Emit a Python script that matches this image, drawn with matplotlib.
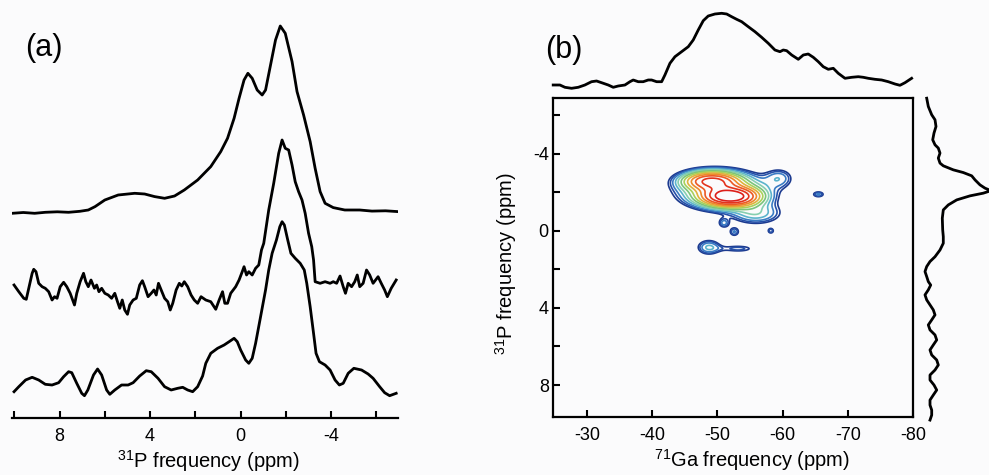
import numpy as np
import matplotlib.pyplot as plt

plt.rcParams['font.family'] = ['Liberation Sans', 'DejaVu Sans']
plt.rcParams['mathtext.default'] = 'regular'
plt.rcParams['axes.unicode_minus'] = False

# (a) three 31P spectra, ppm vs intensity (arbitrary units)
top_ppm = [10.09, 9.6, 9.1, 8.63, 8.1, 7.6, 7.1, 6.73, 6.43, 6.00,
           5.41, 4.68, 4.24, 3.80, 3.36, 2.92, 2.49, 1.90, 1.32, 0.88,
           0.58, 0.29, 0.07, -0.15, -0.32, -0.51, -0.73, -0.95, -1.10, -1.32,
           -1.54, -1.75, -1.97, -2.27, -2.49, -2.78, -3.07, -3.29, -3.51, -3.73,
           -4.09, -4.6, -5.26, -5.8, -6.4, -6.94]
top_int = [0, 0.8, 0, 1, 1.5, 1, 2, 3.3, 6.7, 13.3,
           18.3, 20, 19.3, 16.7, 15, 17.3, 23.3, 33.3, 46.7, 61.7,
           75, 95, 115, 133.3, 140, 135, 123.3, 118.3, 123.3, 148.3,
           173.3, 187.3, 180, 151.7, 121.7, 98.3, 71.7, 45, 21.7, 10,
           5.7, 3.3, 3.3, 2.2, 2.5, 1.7]

mid_ppm = [10.01, 9.80, 9.58, 9.47, 9.36, 9.21, 9.14, 9.04, 8.92, 8.77,
           8.63, 8.48, 8.33, 8.22, 8.11, 7.97, 7.82, 7.68, 7.53, 7.34,
           7.24, 7.09, 6.94, 6.84, 6.73, 6.61, 6.46, 6.36, 6.26, 6.14,
           6.00, 5.85, 5.70, 5.56, 5.44, 5.34, 5.23, 5.12, 5.00, 4.90,
           4.75, 4.61, 4.46, 4.34, 4.24, 4.09, 3.95, 3.83, 3.73, 3.63,
           3.51, 3.36, 3.22, 3.11, 3.00, 2.85, 2.71, 2.60, 2.49, 2.34,
           2.19, 2.05, 1.90, 1.75, 1.54, 1.32, 1.10, 0.95, 0.80, 0.70,
           0.58, 0.44, 0.22, 0.07, -0.07, -0.15, -0.26, -0.36, -0.51, -0.66,
           -0.80, -0.92, -1.02, -1.24, -1.46, -1.68, -1.83, -1.97, -2.12, -2.27,
           -2.41, -2.56, -2.71, -2.85, -3.00, -3.14, -3.22, -3.29, -3.51, -3.73,
           -3.95, -4.09, -4.24, -4.39, -4.53, -4.63, -4.75, -4.90, -5.04, -5.15,
           -5.26, -5.41, -5.56, -5.70, -5.85, -5.96, -6.07, -6.21, -6.36, -6.48,
           -6.65, -6.87]
mid_int = [5, -1.7, -8.3, -9.3, 1.7, 16.7, 20.7, 18.3, 6.7, 3.3,
           1.7, -1.7, -10, -6.7, -8.3, 3.3, 7.7, 3.3, -3.3, -15,
           -3.3, 8.3, 16.7, 8.3, 3.3, 10, 1.7, 5, -1.7, 1.7,
           -3.3, -5, -8.3, -3.3, -11.7, -18.3, -10, -20, -24.3, -15,
           -10, -8.3, 5, 9.3, 3.3, -6.7, -3.3, 0, -5, 6.7,
           0, -8.3, -11.7, -20, -13.3, 0, 6.7, 4, 8.3, 3.3,
           -5, -10, -13.3, -6.7, -10, -11.7, -19.3, -10, -1.7, -13.3,
           -13.3, -3.3, 3.3, 10, 18.3, 23.3, 15, 18.3, 15, 21.7,
           25, 40, 46.7, 80, 106.7, 136.7, 150, 141.7, 140, 125,
           108.3, 98.3, 90, 76.7, 56.7, 43.3, 30, 8.3, 6.7, 8.3,
           6.7, 8.3, 6.7, 14, 3.3, -3.3, 6.7, 3.3, 8.3, 15,
           3.3, 6.7, 20, 15, 6.7, 10, 13.3, 6.7, 0, -6.7,
           1.7, 10]

bot_ppm = [10.01, 9.80, 9.50, 9.21, 8.92, 8.63, 8.33, 8.04, 7.82, 7.60,
           7.46, 7.24, 7.02, 6.90, 6.75, 6.50, 6.32, 6.14, 5.92, 5.78,
           5.56, 5.26, 4.97, 4.75, 4.46, 4.17, 3.95, 3.65, 3.36, 3.07,
           2.78, 2.56, 2.34, 2.12, 1.90, 1.68, 1.54, 1.32, 1.02, 0.73,
           0.51, 0.29, 0.15, 0.00, -0.22, -0.36, -0.51, -0.66, -0.88, -1.10,
           -1.24, -1.39, -1.58, -1.73, -1.83, -1.93, -2.08, -2.22, -2.41, -2.63,
           -2.81, -2.92, -3.07, -3.22, -3.33, -3.48, -3.73, -3.95, -4.17, -4.36,
           -4.53, -4.75, -5.00, -5.34, -5.63, -5.85, -6.14, -6.36, -6.58, -6.87]
bot_int = [1.3, 6.3, 13, 15.7, 13, 8.7, 8, 10.3, 16.3, 21.3,
           20.3, 9.7, -0.3, -2.7, 3, 18, 24, 18, 3, -1.3,
           3, 8, 8, 10.3, 17, 22.3, 21.3, 14.7, 6.3, 3,
           4.7, 5.7, 3, 1.3, 6.3, 17, 29.7, 39.7, 44.7, 48,
           51.3, 54.7, 51.3, 43, 33, 29.7, 34.7, 49.7, 76.3, 103,
           123, 139.7, 153, 166.3, 171.3, 168, 153, 139.7, 134.7, 129.7,
           123, 109.7, 86.3, 59.7, 39.7, 31.3, 28, 23, 13, 8,
           9.7, 19.7, 24.7, 23, 19, 14.7, 6.3, 0.3, -2.7, -0.3]

# (b) 71Ga projection (top) and 31P projection (right)
ga_proj_ppm = [-24.83, -25.86, -26.63, -27.65, -28.67, -29.69, -30.71, -31.48, -32.25, -33.27,
               -34.04, -34.80, -35.83, -36.60, -37.10, -37.87, -38.63, -39.40, -39.92, -40.69,
               -41.46, -41.96, -42.73, -43.50, -44.52, -45.54, -46.30, -47.07, -47.84, -48.60,
               -49.63, -50.66, -51.43, -52.19, -52.96, -53.73, -54.74, -55.77, -56.79, -57.81,
               -58.83, -59.60, -60.11, -60.63, -61.40, -62.41, -63.18, -63.94, -64.71, -65.48,
               -66.24, -67.01, -67.78, -68.54, -69.57, -70.60, -71.61, -72.38, -73.14, -74.17,
               -75.20, -76.21, -77.24, -78.00, -78.77, -79.79]
ga_proj_int = [5, 5, 2.7, 1.7, 2.7, 5, 8.3, 9, 7.3, 5,
               2.7, 4, 5, 8.3, 10, 8.3, 8.3, 10, 10, 8.3,
               8.3, 15, 26.7, 33.3, 38.3, 43.3, 50, 60, 69.3, 74,
               76, 76.7, 76, 73.3, 70.7, 68.3, 63.3, 58.3, 52.7, 46.7,
               40, 38.3, 40, 39.3, 35, 30.7, 35, 36, 32.7, 28.3,
               23.3, 20.7, 21.7, 16.7, 11.7, 12.7, 13.3, 12.7, 11.7, 10.7,
               10, 8.3, 6, 4.7, 7.3, 11.7]

p_proj_ppm = [-6.89, -6.46, -6.03, -5.77, -5.42, -5.08, -4.73, -4.47, -4.30, -4.04,
              -3.78, -3.52, -3.38, -3.17, -3.03, -2.86, -2.65, -2.39, -2.22, -2.09,
              -1.96, -1.82, -1.61, -1.35, -1.09, -0.66, -0.05, 0.30, 0.64, 0.99,
              1.34, 1.59, 1.85, 2.11, 2.37, 2.63, 2.81, 3.06, 3.32, 3.58,
              3.84, 4.10, 4.36, 4.62, 4.88, 5.14, 5.40, 5.66, 5.92, 6.18,
              6.44, 6.70, 6.96, 7.22, 7.48, 7.74, 8.00, 8.26, 8.52, 8.78,
              9.04, 9.30, 9.56, 9.82]
p_proj_int = [1.7, 3.3, 6.7, 10, 11, 9, 7.7, 10, 13.3, 15,
              13.3, 15, 18.3, 28.3, 38.3, 46.7, 50, 55, 60, 66,
              58.3, 45, 31.7, 23.3, 18.3, 17.3, 17.7, 18.3, 18.3, 15,
              10, 5, 1.7, 0, 1.7, 3.3, 5.7, 3.3, 0, 1.7,
              5, 8.3, 10, 6.7, 3.3, 5, 10, 11.7, 8.3, 5,
              6.7, 11.7, 13.3, 10, 5, 5, 9, 11.7, 8.3, 5,
              5, 6.7, 6.7, 5]

# 2D correlation peaks: 71Ga centre, 31P centre, widths, height
peak_ga = [-52.0, -49.0, -51.0, -56.0, -59.5, -65.5, -51.0, -52.6, -58.2, -48.7, -53.2]
peak_p = [-1.78, -2.6, -2.1, -0.9, -2.75, -1.9, -0.4, 0.05, 0.0, 0.85, 0.92]
peak_wga = [2.6, 2.6, 4.3, 2.6, 1.5, 0.7, 0.6, 0.6, 0.4, 1.3, 2.0]
peak_wp = [0.30, 0.30, 0.60, 0.38, 0.35, 0.12, 0.18, 0.18, 0.12, 0.28, 0.14]
peak_amp = [1.0, 0.65, 0.3, 0.14, 0.1, 0.1, 0.095, 0.095, 0.085, 0.13, 0.085]

levels = [0.06, 0.075, 0.095, 0.125, 0.16, 0.21, 0.27, 0.35, 0.45, 0.57, 0.74, 0.95]
level_colors = ['#1c3a8f', '#2650a8', '#3a7cc4', '#5cb4cc', '#86cfb0', '#7cc47a',
                '#a9d15a', '#e0b23c', '#ee8a2c', '#ec5a24', '#e3331d', '#dc1f1a']

W, H = 989, 475
fig = plt.figure(figsize=(W / 100, H / 100), dpi=100)
fig.patch.set_facecolor('#fbfbfc')


def box(x0, y0, x1, y1):
    return [x0 / W, 1 - y1 / H, (x1 - x0) / W, (y1 - y0) / H]


# panel (a)
ax1 = fig.add_axes(box(12, 10, 398, 418))
ax1.set_facecolor('none')
for ppm, val, off in [(top_ppm, top_int, 204.7), (mid_ppm, mid_int, 128), (bot_ppm, bot_int, 25)]:
    ax1.plot(ppm, np.array(val) + off, color='black', lw=2.0)
ax1.set_xlim(10.1, -6.95)
ax1.set_ylim(0, 408)
for s in ['left', 'right', 'top']:
    ax1.spines[s].set_visible(False)
ax1.spines['bottom'].set_linewidth(1.6)
ax1.set_yticks([])
ax1.set_xticks([8, 4, 0, -4])
ax1.set_xticks([10, 6, 2, -2, -6], minor=True)
ax1.tick_params(axis='x', which='both', direction='in', length=5, width=1.5, labelsize=13, pad=7)
ax1.set_xlabel('$^{31}$P frequency (ppm)', fontsize=14.5)
ax1.xaxis.set_label_coords((208 - 12) / 386, -(448 - 418) / 408)
fig.text(25 / W, 1 - 48 / H, '(a)', fontsize=22, ha='left', va='center')

# panel (b)
ax2 = fig.add_axes(box(553, 98, 913, 417))
ax2.set_facecolor('none')
ga = np.linspace(-24.8, -80, 500)
p = np.linspace(-7, 9.7, 500)
GA, P = np.meshgrid(ga, p)
Z = np.zeros_like(GA)
for g0, p0, wg, wp, a in zip(peak_ga, peak_p, peak_wga, peak_wp, peak_amp):
    Z += a * np.exp(-0.5 * ((GA - g0) / wg) ** 2 - 0.5 * ((P - p0) / wp) ** 2)
ax2.contour(GA, P, Z, levels=levels, colors=level_colors, linewidths=1.2)
ax2.set_xlim(-24.8, -80)
ax2.set_ylim(9.66, -6.9)
for s in ax2.spines.values():
    s.set_linewidth(1.6)
ax2.set_xticks([-30, -40, -50, -60, -70, -80])
ax2.set_yticks([-4, 0, 4, 8])
ax2.set_yticks([-6, -2, 2, 6], minor=True)
ax2.tick_params(which='both', direction='in', length=5, width=1.5, labelsize=13,
                top=False, right=False)
ax2.tick_params(axis='x', pad=7)
ax2.tick_params(axis='y', pad=3)
ax2.set_xlabel('$^{71}$Ga frequency (ppm)', fontsize=14.5)
ax2.xaxis.set_label_coords((752 - 553) / 360, -(447 - 417) / 319)
ax2.set_ylabel('$^{31}$P frequency (ppm)', fontsize=14.5)
ax2.yaxis.set_label_coords(-(553 - 519) / 360, 0.48)
fig.text(545 / W, 1 - 50 / H, '(b)', fontsize=22, ha='left', va='center')

ax_top = fig.add_axes(box(553, 0, 913, 90))
ax_top.plot(ga_proj_ppm, ga_proj_int, color='black', lw=2.0, clip_on=False)
ax_top.set_xlim(-24.8, -80)
ax_top.set_ylim(0, 90)
ax_top.axis('off')

ax_right = fig.add_axes(box(925, 98, 989, 417))
ax_right.plot(p_proj_int, p_proj_ppm, color='black', lw=2.0, clip_on=False)
ax_right.set_xlim(0, 64)
ax_right.set_ylim(9.66, -6.9)
ax_right.axis('off')

fig.savefig('out.png', dpi=100, facecolor=fig.get_facecolor())
